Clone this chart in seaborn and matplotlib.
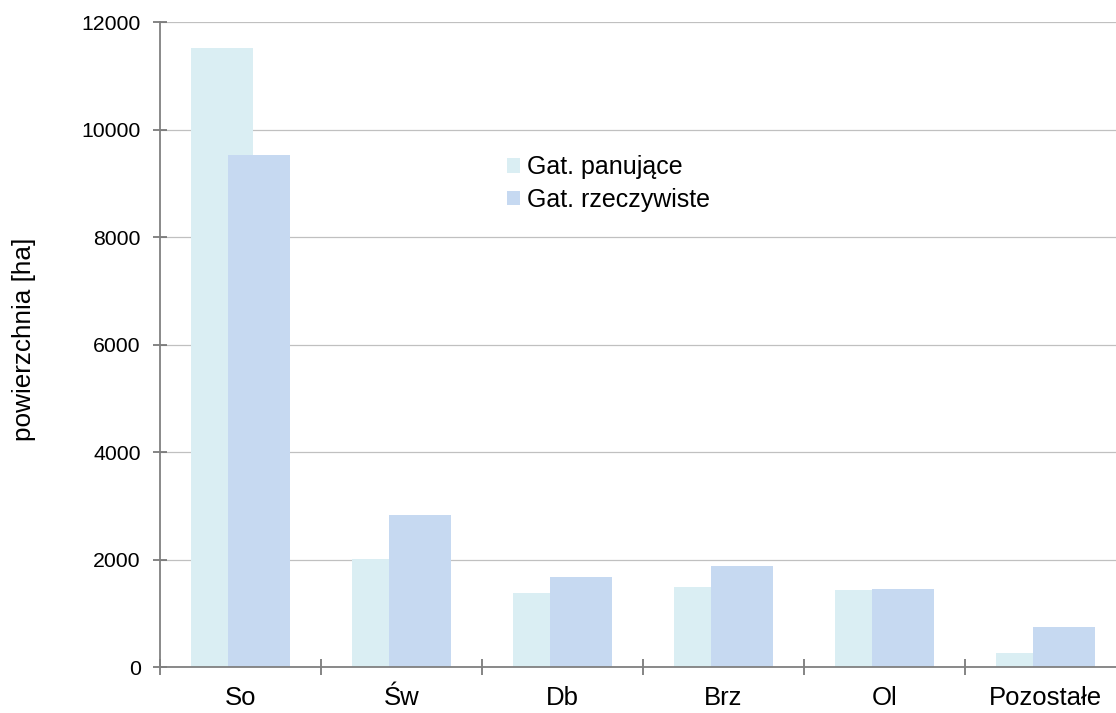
import numpy as np
import pandas as pd
import seaborn as sns
import matplotlib.pyplot as plt
from matplotlib.ticker import FixedLocator, NullFormatter, FixedFormatter

# data
categories = ['So', 'Św', 'Db', 'Brz', 'Ol', 'Pozostałe']
panujace = [11520, 2005, 1380, 1490, 1435, 260]
rzeczywiste = [9530, 2830, 1675, 1875, 1455, 745]
series_names = ['Gat. panujące', 'Gat. rzeczywiste']
y_ticks = [0, 2000, 4000, 6000, 8000, 10000, 12000]

sns.set_style('white')
plt.rcParams['font.family'] = ['Liberation Sans', 'DejaVu Sans']
plt.rcParams['text.color'] = 'black'
plt.rcParams['axes.labelcolor'] = 'black'
plt.rcParams['xtick.color'] = 'black'
plt.rcParams['ytick.color'] = 'black'

pos = np.arange(len(categories))
df_a = pd.DataFrame({'x': pos - 0.115, 'y': panujace})
df_b = pd.DataFrame({'x': pos + 0.115, 'y': rzeczywiste})

fig = plt.figure(figsize=(11.16, 7.13), dpi=100)
ax = fig.add_axes([0.1434, 0.0645, 0.8656, 0.9046])

sns.barplot(data=df_a, x='x', y='y', native_scale=True, width=0.385,
            color='#daeef3', saturation=1, linewidth=0, errorbar=None,
            label=series_names[0], ax=ax)
sns.barplot(data=df_b, x='x', y='y', native_scale=True, width=0.385,
            color='#c6d9f1', saturation=1, linewidth=0, errorbar=None,
            label=series_names[1], ax=ax)

ax.set_xlim(-0.5, 5.5)
ax.set_ylim(0, 12000)
ax.set_yticks(y_ticks)
ax.set_yticklabels([str(t) for t in y_ticks])

# category boundaries as major ticks, names at centres as minor ticks
ax.xaxis.set_major_locator(FixedLocator(np.arange(-0.5, 6.0, 1.0)))
ax.xaxis.set_major_formatter(NullFormatter())
ax.xaxis.set_minor_locator(FixedLocator(pos))
ax.xaxis.set_minor_formatter(FixedFormatter(categories))
ax.tick_params(axis='x', which='major', bottom=True, direction='inout',
               length=11, width=1.2, color='#707070')
ax.tick_params(axis='x', which='minor', bottom=True, length=0, pad=14,
               labelsize=18.5, labelcolor='black')
ax.tick_params(axis='y', left=True, direction='inout', length=10, width=1.2,
               color='#707070', labelsize=15.3, pad=9, labelcolor='black')

ax.yaxis.grid(True, color='#c0c0c0', linewidth=0.9)
ax.set_axisbelow(True)
for s in ['top', 'right']:
    ax.spines[s].set_visible(False)
for s in ['left', 'bottom']:
    ax.spines[s].set_color('#808080')
    ax.spines[s].set_linewidth(1.3)

ax.set_xlabel('')
ax.set_ylabel('powierzchnia [ha]', fontsize=18.8, color='black')
ax.yaxis.set_label_coords(-0.128, 0.508)

ax.legend(loc='upper left', bbox_to_anchor=(0.336, 0.828), frameon=False,
          fontsize=18, handlelength=0.5, handleheight=0.5,
          handletextpad=0.3, labelspacing=0.35)

fig.savefig('out.png', dpi=100)
